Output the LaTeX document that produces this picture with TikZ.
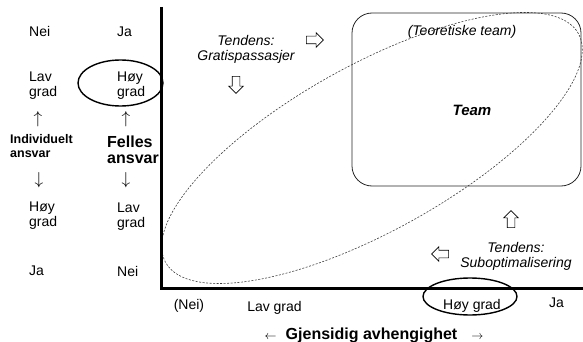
\documentclass[tikz,border=0pt]{standalone}
\usepackage{fontspec}
\setmainfont{Liberation Sans}
\usetikzlibrary{shapes.geometric,shapes.arrows}

\begin{document}
\begin{tikzpicture}[x=1pt,y=-1pt,
    lbl/.style={font=\fontsize{14}{15}\selectfont, inner sep=0pt},
    lblL/.style={lbl, align=left, anchor=west},
    vert/.style={font=\fontsize{17}{17}\selectfont, inner sep=0pt},
    tend/.style={font=\fontsize{14}{15}\selectfont\itshape, align=center, inner sep=0pt},
    ring/.style={draw, ellipse, line width=1.4pt, inner sep=0pt},
    blk/.style={single arrow, draw, fill=white, line width=0.6pt, inner sep=3.5pt, minimum height=17pt, single arrow head extend=3.5pt},
    axis/.style={line width=3pt}]
    \useasboundingbox (0,0) rectangle (583,342);

    \draw[black!75, line width=0.6pt, dash pattern=on 2pt off 1.5pt, rotate around={29:(372,148)}] (372,148) ellipse [x radius=236pt, y radius=83pt];
    \node[draw, gray!30!black, line width=0.8pt, rounded corners=20pt, minimum width=229pt, minimum height=173pt] (teambox) at (466.5,99.5) {};
    \node[font=\fontsize{14}{15}\selectfont\itshape, inner sep=0pt] (teori) at (462,31.5) {(Teoretiske team)};
    \node[font=\fontsize{15}{17}\selectfont\bfseries\itshape, inner sep=0pt] (team) at (472,110) {Team};

    \coordinate (ytop) at (161.5,7);
    \coordinate (orig) at (161.5,288.5);
    \coordinate (xend) at (583,288.5);
    \draw[axis] (ytop) -- (orig) -- (xend);

    \node[lblL] (neiI) at (29,31.5) {Nei};
    \node[lblL] (jaF) at (117,32) {Ja};
    \node[lblL] (lavI) at (29,85.5) {Lav\\grad};
    \node[lblL] (hoyF) at (117,85.5) {Høy\\grad};
    \node[ring, minimum width=85pt, minimum height=46pt] (hoyFring) at (120.5,83) {};
    \node[vert] (upI) at (38,119) {$\uparrow$};
    \node[vert] (upF) at (126,119) {$\uparrow$};
    \node[lblL, font=\fontsize{12.5}{14}\selectfont\bfseries] (indiv) at (10,146.5) {Individuelt\\ansvar};
    \node[lblL, font=\fontsize{16}{15.5}\selectfont\bfseries] (felles) at (107,150) {Felles\\ansvar};
    \node[vert] (downI) at (39,180) {$\downarrow$};
    \node[vert] (downF) at (126,180) {$\downarrow$};
    \node[lblL] (hoyI) at (29,216) {Høy\\grad};
    \node[lblL] (lavF) at (117,217) {Lav\\grad};
    \node[lblL] (jaI) at (29,271) {Ja};
    \node[lblL] (neiF) at (117,271.5) {Nei};

    \node[lbl] (neiA) at (189,306) {(Nei)};
    \node[lbl] (lavA) at (274.5,307.5) {Lav grad};
    \node[lbl] (hoyA) at (472,306) {Høy grad};
    \node[ring, minimum width=94pt, minimum height=37pt] (hoyAring) at (470,296.5) {};
    \node[lbl] (jaA) at (556.5,303) {Ja};
    \node[lbl, font=\fontsize{16}{18}\selectfont\bfseries, anchor=base] (avh) at (374,339) {{\fontsize{13}{13}\selectfont$\leftarrow$}\hspace{9pt}Gjensidig avhengighet\hspace{14pt}{\fontsize{13}{13}\selectfont$\rightarrow$}};

    \node[tend] (gratis) at (246,49) {Tendens:\\Gratispassasjer};
    \node[blk] (gratisR) at (313,40) {};
    \node[blk, shape border rotate=270] (gratisD) at (236,83) {};
    \node[tend] (subopt) at (516,256) {Tendens:\\Suboptimalisering};
    \node[blk, shape border rotate=90] (suboptU) at (511,221) {};
    \node[blk, shape border rotate=180] (suboptL) at (442,254) {};
\end{tikzpicture}
\end{document}
